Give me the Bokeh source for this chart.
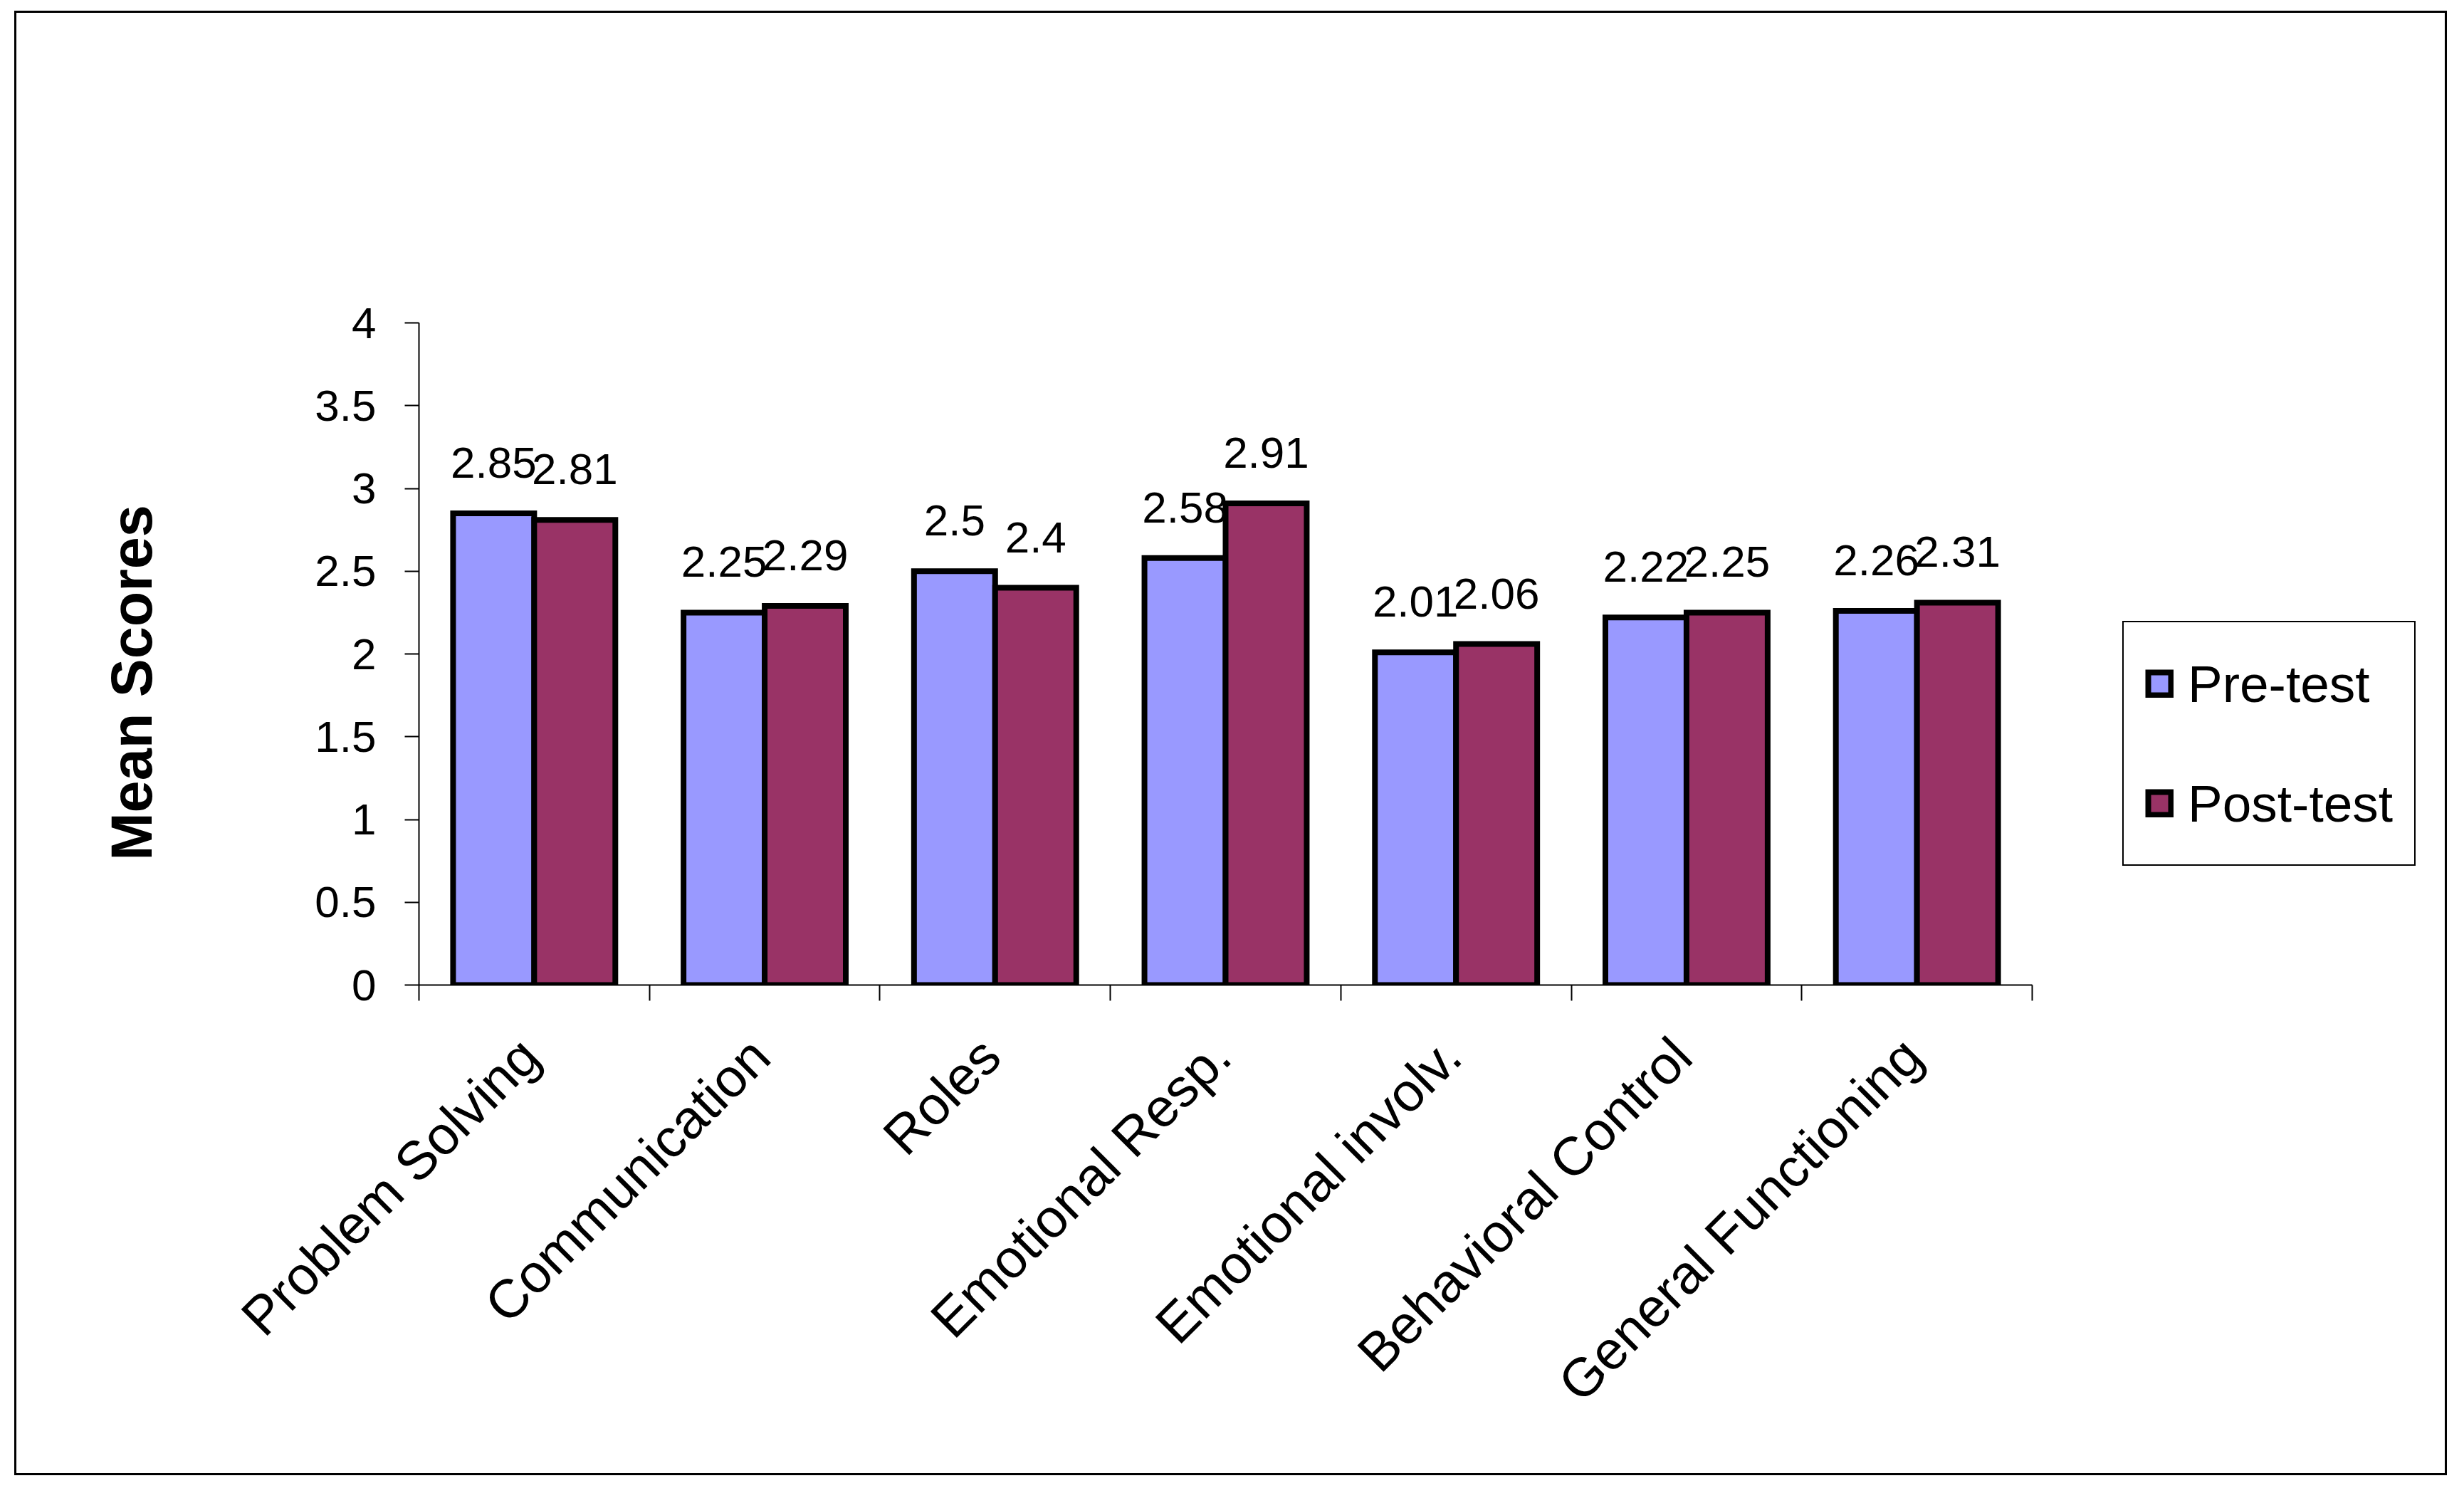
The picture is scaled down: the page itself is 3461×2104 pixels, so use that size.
import math
from bokeh.plotting import figure
from bokeh.models import (ColumnDataSource, Range1d, FixedTicker, NumeralTickFormatter,
                          LabelSet, Legend, LegendItem)
from bokeh.core.properties import value
from bokeh.embed import file_html
from bokeh.resources import INLINE

# ---- data ----
categories = ["Problem Solving", "Communication", "Roles", "Emotional Resp.",
              "Emotional involv.", "Behavioral Control", "General Functioning"]
pre_test = [2.85, 2.25, 2.5, 2.58, 2.01, 2.22, 2.26]
post_test = [2.81, 2.29, 2.4, 2.91, 2.06, 2.25, 2.31]
series_names = ["Pre-test", "Post-test"]
y_ticks = [0, 0.5, 1, 1.5, 2, 2.5, 3, 3.5, 4]

# ---- layout (canvas pixels) ----
FONT = "Liberation Sans"
W, H = 3411, 2051
FL, FT, FB = 565, 435, 1365
AXIS_RIGHT = 2831          # where the category axis ends
FR = W - 5                 # frame extends right so the legend sits inside it
n = len(categories)
x_end = n * (FR - FL) / (AXIS_RIGHT - FL)
bw = 0.352
label_shift = 0.02

centers = [i + 0.5 for i in range(n)]
label_ticks = [round(c - label_shift, 4) for c in centers]
source = ColumnDataSource(dict(
    cat=categories,
    x_pre=[c - bw / 2 for c in centers],
    x_post=[c + bw / 2 for c in centers],
    pre=pre_test,
    post=post_test,
    pre_lbl=[f"{v:g}" for v in pre_test],
    post_lbl=[f"{v:g}" for v in post_test],
))

p = figure(width=W, height=H, output_backend="svg", toolbar_location=None,
           x_range=Range1d(0, x_end), y_range=Range1d(0, 4),
           min_border_left=FL, min_border_right=W - FR,
           min_border_top=FT, min_border_bottom=H - FB,
           margin=(18, 0, 0, 23),
           styles={"outline": "3px solid black"})
p.title.visible = False
p.xgrid.grid_line_color = None
p.ygrid.grid_line_color = None
p.outline_line_color = None
p.background_fill_color = "white"
p.border_fill_color = "white"

r_pre = p.vbar(x="x_pre", width=bw, top="pre", bottom=0, source=source,
               fill_color="#9999FF", line_color="black", line_width=8, line_join="miter")
r_post = p.vbar(x="x_post", width=bw, top="post", bottom=0, source=source,
                fill_color="#993366", line_color="black", line_width=8, line_join="miter")

for xcol, ycol, tcol in [("x_pre", "pre", "pre_lbl"), ("x_post", "post", "post_lbl")]:
    p.add_layout(LabelSet(x=xcol, y=ycol, text=tcol, source=source, y_offset=50,
                          text_align="center", text_baseline="alphabetic",
                          text_font=value(FONT), text_font_size="62px", text_color="black"))

# y axis
yax = p.yaxis[0]
yax.ticker = FixedTicker(ticks=y_ticks)
yax.formatter = NumeralTickFormatter(format="0.[0]")
yax.bounds = (0, 4)
yax.major_tick_in = 0
yax.major_tick_out = 20
yax.minor_tick_in = 0
yax.minor_tick_out = 0
yax.axis_line_width = 2
yax.axis_line_color = "black"
yax.major_tick_line_width = 2
yax.major_tick_line_color = "black"
yax.major_label_text_font = FONT
yax.major_label_text_font_size = "62px"
yax.major_label_text_color = "black"
yax.major_label_standoff = 40
yax.axis_label = "Mean Scores\u2002\u2002"
yax.axis_label_text_font = FONT
yax.axis_label_text_font_size = "81px"
yax.axis_label_text_font_style = "bold"
yax.axis_label_text_color = "black"
yax.axis_label_standoff = 209

# x axis
xax = p.xaxis[0]
xax.ticker = FixedTicker(ticks=label_ticks, minor_ticks=list(range(n + 1)))
xax.major_label_overrides = {t: c for t, c in zip(label_ticks, categories)}
xax.bounds = (0, n)
xax.major_tick_in = 0
xax.major_tick_out = 0
xax.minor_tick_in = 0
xax.minor_tick_out = 22
xax.minor_tick_line_width = 2
xax.minor_tick_line_color = "black"
xax.axis_line_width = 2
xax.axis_line_color = "black"
xax.major_label_orientation = math.pi / 4
xax.major_label_text_font = FONT
xax.major_label_text_font_size = "76px"
xax.major_label_text_color = "black"
xax.major_label_standoff = 65

legend = Legend(items=[LegendItem(label=series_names[0], renderers=[r_pre]),
                       LegendItem(label=series_names[1], renderers=[r_post])],
                location=(2393, 167), orientation="vertical",
                label_text_font=FONT, label_text_font_size="73px",
                label_text_color="black",
                glyph_width=40, glyph_height=40, label_standoff=20,
                label_height=112, spacing=56, padding=30, margin=0,
                border_line_color="black", border_line_width=2, border_line_alpha=1.0,
                background_fill_color="white", background_fill_alpha=1.0)
p.add_layout(legend, "center")

open("out.html", "w").write(file_html(p, INLINE))
